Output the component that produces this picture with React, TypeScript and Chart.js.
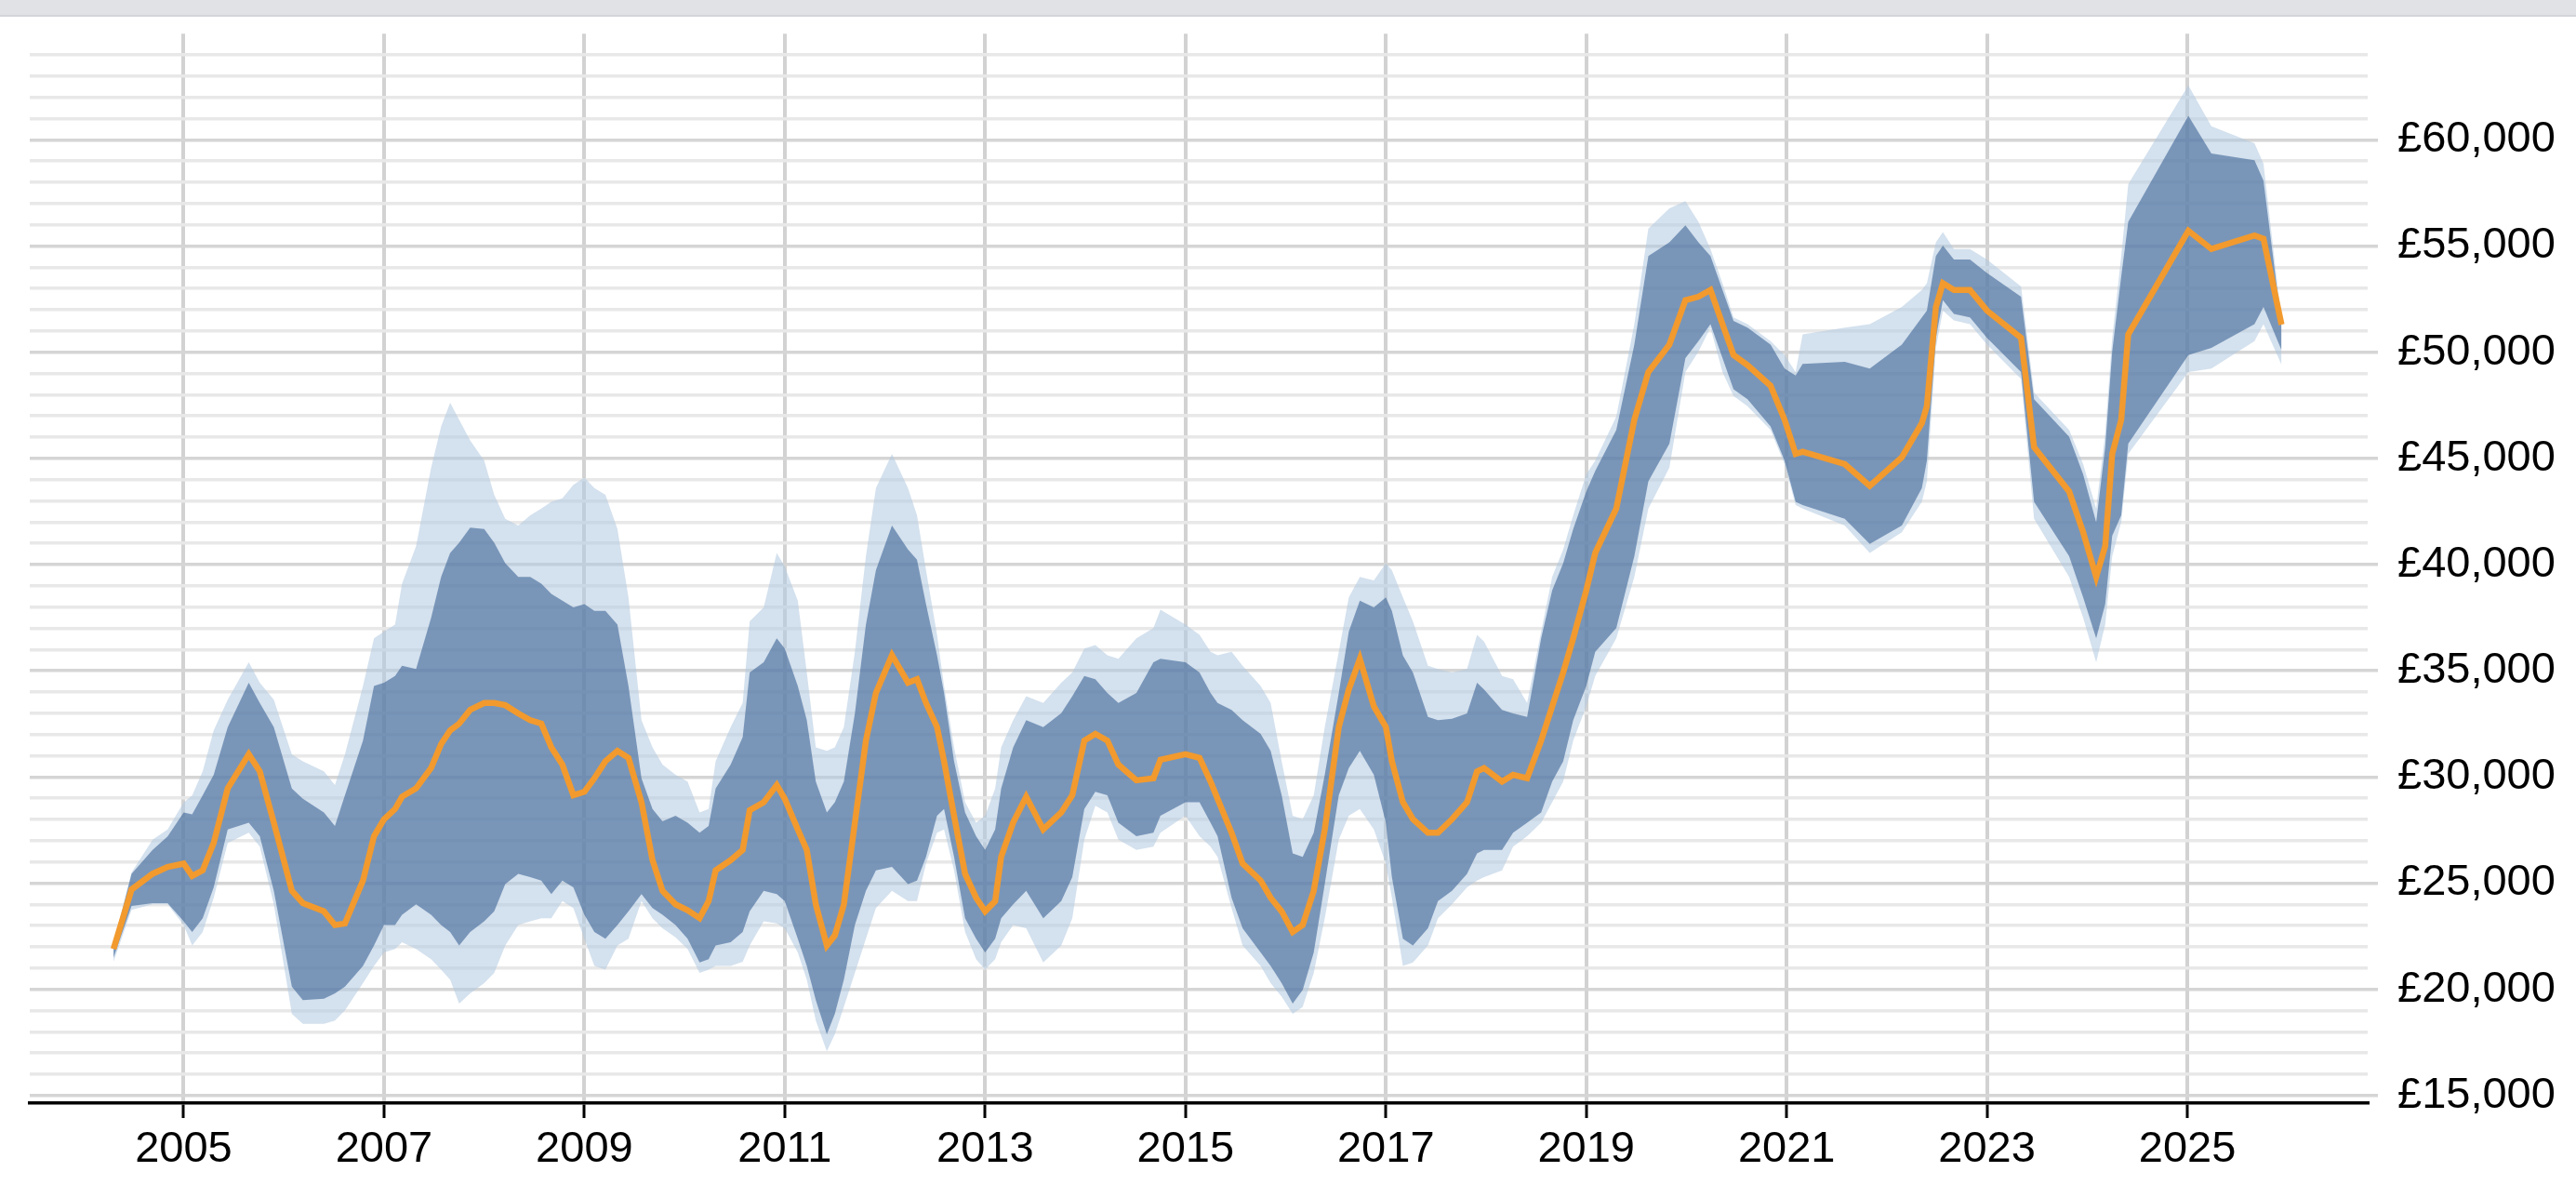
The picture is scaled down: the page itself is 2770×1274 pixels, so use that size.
import { useEffect, useRef } from "react";
import { Chart, registerables } from "chart.js";

Chart.register(...registerables);

// sample dates as decimal years
const years = [
  2004.3, 2004.48, 2004.69, 2004.84, 2005.0, 2005.085, 2005.19, 2005.3, 2005.44, 2005.65,
  2005.76, 2005.9, 2006.08, 2006.19, 2006.4, 2006.51, 2006.61, 2006.79, 2006.9, 2007.0,
  2007.11, 2007.18, 2007.32, 2007.47, 2007.57, 2007.66, 2007.75, 2007.86, 2008.0, 2008.1,
  2008.21, 2008.34, 2008.46, 2008.57, 2008.67, 2008.78, 2008.89, 2009.0, 2009.1, 2009.21,
  2009.33, 2009.44, 2009.57, 2009.68, 2009.78, 2009.91, 2010.03, 2010.15, 2010.24, 2010.31,
  2010.46, 2010.58, 2010.65, 2010.79, 2010.92, 2011.0, 2011.13, 2011.22, 2011.31, 2011.42,
  2011.5, 2011.59, 2011.7, 2011.81, 2011.91, 2012.07, 2012.23, 2012.32, 2012.41, 2012.52,
  2012.59, 2012.69, 2012.8, 2012.91, 2013.0, 2013.1, 2013.16, 2013.28, 2013.41, 2013.58,
  2013.76, 2013.87, 2013.99, 2014.1, 2014.22, 2014.33, 2014.51, 2014.68, 2014.75, 2015.0,
  2015.14, 2015.25, 2015.32, 2015.46, 2015.57, 2015.75, 2015.85, 2015.96, 2016.07, 2016.17,
  2016.28, 2016.39, 2016.53, 2016.63, 2016.74, 2016.88, 2017.0, 2017.06, 2017.17, 2017.27,
  2017.42, 2017.52, 2017.66, 2017.81, 2017.91, 2017.98, 2018.16, 2018.27, 2018.41, 2018.55,
  2018.66, 2018.77, 2018.87, 2019.0, 2019.09, 2019.3, 2019.48, 2019.62, 2019.83, 2019.99,
  2020.12, 2020.24, 2020.36, 2020.47, 2020.61, 2020.84, 2020.98, 2021.09, 2021.16, 2021.58,
  2021.83, 2022.15, 2022.35, 2022.4, 2022.49, 2022.56, 2022.67, 2022.83, 2023.0, 2023.34,
  2023.47, 2023.82, 2023.96, 2024.09, 2024.18, 2024.25, 2024.34, 2024.41, 2025.01, 2025.24,
  2025.67, 2025.76, 2025.94,
];

// 10th percentile
const p10 = [
  21300, 23740, 24000, 24000, 23030, 22060, 22700, 24310, 26890, 27370,
  26720, 24000, 18850, 18370, 18370, 18530, 19010, 20290, 21100, 21740,
  21900, 22220, 21900, 21420, 20930, 20450, 19330, 19810, 20290, 20770,
  22060, 23030, 23200, 23350, 23350, 24150, 23830, 22380, 21100, 20930,
  22060, 22380, 24150, 23350, 22870, 22450, 21900, 20770, 20930, 21100,
  21100, 21300, 22060, 23200, 23100, 22870, 21740, 20450, 18530, 17080,
  17880, 19170, 20770, 22380, 23830, 24640, 24150, 24150, 25920, 27370,
  27530, 25600, 22700, 21420, 20930, 21420, 22220, 23030, 22870, 21260,
  22060, 23350, 27050, 28650, 28330, 27050, 26560, 26720, 27370, 28170,
  27210, 26720, 26240, 23830, 22060, 21100, 20290, 19650, 18850, 19170,
  20770, 23350, 27050, 28170, 28490, 27530, 25920, 24310, 21100, 21260,
  22060, 23350, 24000, 24800, 25120, 25280, 25600, 26720, 27210, 27850,
  28810, 29780, 31710, 33320, 34760, 36530, 39420, 42640, 44570, 49070,
  50030, 51160, 49070, 47940, 47460, 46340, 44730, 42800, 42640, 41840,
  40550, 41520, 42960, 43920, 50200, 51960, 51500, 51320, 50360, 48740,
  42160, 39420, 37490, 35400, 37170, 40390, 42000, 45210, 49070, 49230,
  50520, 51320, 49400,
];

// 25th percentile
const p25 = [
  21500, 23930, 24060, 24060, 23200, 22700, 23350, 24800, 27530, 27850,
  27210, 24640, 20130, 19490, 19560, 19810, 20130, 21100, 22060, 23030,
  23030, 23510, 24000, 23510, 23030, 22700, 22060, 22700, 23200, 23670,
  24960, 25440, 25280, 25120, 24480, 25120, 24800, 23510, 22700, 22380,
  23030, 23670, 24480, 23830, 23510, 23030, 22380, 21260, 21420, 22060,
  22220, 22700, 23670, 24640, 24480, 24150, 22380, 21100, 19490, 17880,
  18850, 20450, 23030, 24640, 25600, 25760, 24960, 25120, 26240, 28170,
  28490, 26240, 23350, 22380, 21740, 22380, 23350, 24000, 24640, 23350,
  24150, 25280, 28490, 29300, 29140, 27850, 27210, 27370, 28170, 28810,
  28810, 27850, 27210, 24310, 22870, 21740, 21100, 20290, 19330, 19970,
  21740, 24960, 29140, 30420, 31230, 30100, 27850, 25280, 22380, 22060,
  22870, 24150, 24640, 25440, 26400, 26560, 26560, 27370, 27850, 28330,
  29780, 30740, 32670, 34280, 35890, 37010, 40390, 43920, 45690, 49720,
  50520, 51320, 49720, 48260, 47780, 46500, 44890, 42960, 42800, 42160,
  40970, 41840, 43600, 44890, 50680, 52450, 51800, 51640, 50680, 49070,
  42960, 40390, 38460, 36530, 38140, 41360, 42320, 45690, 49870, 50200,
  51320, 52130, 50100,
];

// median
const p50 = [
  21900, 24700, 25440, 25760, 25920, 25340, 25600, 26890, 29460, 31070,
  30260, 27850, 24640, 24060, 23670, 23030, 23100, 25120, 27210, 28010,
  28490, 29070, 29460, 30420, 31550, 32190, 32510, 33160, 33480, 33480,
  33380, 32990, 32670, 32510, 31390, 30580, 29140, 29300, 29940, 30740,
  31230, 30900, 28810, 26080, 24640, 24000, 23730, 23350, 24150, 25600,
  26080, 26560, 28430, 28810, 29620, 28970, 27530, 26560, 24000, 22060,
  22540, 24000, 27850, 31710, 33960, 35730, 34440, 34600, 33480, 32350,
  30740, 28170, 25440, 24310, 23670, 24150, 26240, 27850, 29070, 27530,
  28330, 29140, 31710, 32030, 31710, 30580, 29840, 29940, 30810, 31070,
  30900, 29780, 28970, 27370, 25920, 25120, 24310, 23670, 22700, 23030,
  24640, 27530, 32350, 34120, 35560, 33320, 32350, 30740, 28810, 28010,
  27370, 27370, 28010, 28810, 30260, 30420, 29780, 30100, 29940, 31710,
  33320, 34920, 36530, 38780, 40550, 42640, 46820, 49070, 50360, 52450,
  52610, 52930, 51320, 49870, 49390, 48420, 46820, 45210, 45310, 44730,
  43700, 45050, 46660, 47460, 52130, 53250, 52930, 52930, 51960, 50680,
  45530, 43440, 41520, 39420, 40870, 45210, 46820, 50840, 55720, 54860,
  55500, 55340, 51300,
];

// 75th percentile
const p75 = [
  22100, 25440, 26560, 27200, 28330, 28240, 29140, 30100, 32350, 34440,
  33480, 32350, 29460, 28970, 28330, 27690, 29140, 31710, 34280, 34440,
  34760, 35240, 35080, 37490, 39420, 40550, 41030, 41740, 41680, 41030,
  40070, 39420, 39420, 39100, 38620, 38300, 37980, 38140, 37820, 37820,
  37170, 34280, 29940, 28490, 27910, 28170, 27850, 27370, 27690, 29460,
  30580, 31870, 34920, 35400, 36530, 36050, 34280, 32670, 29780, 28330,
  28810, 29780, 32990, 37170, 39740, 41840, 40710, 40230, 38140, 35730,
  33960, 30740, 28330, 27210, 26560, 27530, 29460, 31390, 32670, 32350,
  33000, 33800, 34760, 34600, 33960, 33480, 33960, 35400, 35570, 35400,
  34920, 33960, 33480, 33160, 32670, 32030, 31230, 29140, 26400, 26240,
  27370, 30100, 33960, 36850, 38300, 37980, 38460, 37820, 35720, 34920,
  32830, 32670, 32740, 32990, 34440, 34120, 33160, 32990, 32830, 36530,
  38780, 40070, 41680, 43440, 44410, 46340, 50360, 54530, 55180, 55980,
  55180, 54530, 52930, 51480, 51160, 50360, 49230, 48900, 49450, 49550,
  49230, 50360, 51640, 51960, 54530, 55020, 54370, 54370, 53730, 52610,
  47780, 46020, 44250, 41990, 45530, 50040, 53570, 56140, 61130, 59360,
  59040, 58080, 51300,
];

// 90th percentile
const p90 = [
  22200, 25500, 27050, 27530, 28800, 29130, 30260, 32190, 33640, 35400,
  34440, 33640, 31070, 30740, 30260, 29620, 31070, 34280, 36530, 36850,
  37170, 39100, 40870, 44560, 46500, 47620, 46820, 45850, 44890, 43280,
  42160, 41840, 42320, 42640, 42960, 43120, 43760, 44090, 43600, 43280,
  41680, 38460, 32670, 31390, 30580, 30100, 29780, 28330, 28490, 30740,
  32350, 33480, 37330, 37980, 40550, 39910, 38300, 34920, 31390, 31230,
  31390, 32350, 35890, 40390, 43600, 45210, 43600, 42320, 39740, 36690,
  34280, 31390, 28810, 27850, 28170, 29460, 31390, 32670, 33800, 33480,
  34440, 34920, 36050, 36210, 35730, 35570, 36530, 37010, 37880, 37170,
  36690, 35890, 35730, 35890, 35240, 34280, 33480, 30740, 28170, 28010,
  29140, 32350, 35890, 38460, 39420, 39260, 40070, 39740, 38460, 37330,
  35240, 35080, 34920, 35080, 36690, 36370, 34760, 34600, 33480, 36850,
  39420, 40710, 42320, 44250, 44890, 46980, 51320, 55820, 56780, 57110,
  56140, 54860, 53250, 51640, 51320, 50520, 49870, 49070, 50840, 51160,
  51320, 52130, 52930, 53250, 55180, 55660, 54860, 54860, 54370, 53090,
  48100, 46340, 44730, 42640, 46180, 50680, 54530, 57910, 62570, 60640,
  59840, 58880, 51500,
];

const xTickYears = [2005, 2007, 2009, 2011, 2013, 2015, 2017, 2019, 2021, 2023, 2025];
const yGridValues = Array.from({ length: 50 }, (_, i) => 15000 + i * 1000);

const FONT = "Arial, 'Liberation Sans', Helvetica, sans-serif";
const W = 2770;
const H = 1274;
// canvas is lifted so the right axis label padding lands the plot top at y=36
const LIFT = 13;

const pts = (vals: number[]) => years.map((x, i) => ({ x, y: vals[i] }));

export default function App() {
  const canvasRef = useRef<HTMLCanvasElement | null>(null);

  useEffect(() => {
    document.body.style.margin = "0";
    const ctx = canvasRef.current?.getContext("2d");
    if (!ctx) return;

    const band = {
      borderWidth: 0,
      borderColor: "rgba(0,0,0,0)",
      pointRadius: 0,
      tension: 0,
    };

    const chart = new Chart(ctx, {
      type: "line",
      data: {
        datasets: [
          {
            label: "Median",
            data: pts(p50),
            borderColor: "#f29a2e",
            borderWidth: 6.5,
            pointRadius: 0,
            tension: 0,
            fill: false,
            borderJoinStyle: "miter",
          },
          { ...band, label: "75th", data: pts(p75), backgroundColor: "rgba(60,100,150,0.6)", fill: { target: 2 } },
          { ...band, label: "25th", data: pts(p25), fill: false },
          { ...band, label: "90th", data: pts(p90), backgroundColor: "rgba(176,200,224,0.55)", fill: { target: 4 } },
          { ...band, label: "10th", data: pts(p10), fill: false },
        ],
      },
      options: {
        responsive: false,
        animation: false,
        devicePixelRatio: 1,
        layout: { padding: { left: 32, top: 0, right: 0, bottom: 0 } },
        plugins: { legend: { display: false }, tooltip: { enabled: false } },
        scales: {
          x: {
            type: "linear",
            min: 2003.464,
            max: 2026.8,
            afterBuildTicks: (scale: any) => {
              scale.ticks = xTickYears.map((v) => ({ value: v }));
            },
            afterFit: (scale: any) => {
              scale.height = 88;
            },
            grid: {
              color: "#d2d2d2",
              lineWidth: 4,
              tickLength: 16,
              tickColor: "#000",
              tickWidth: 3,
            },
            border: { display: true, color: "#000", width: 3.5 },
            ticks: {
              autoSkip: false,
              maxRotation: 0,
              padding: 6,
              color: "#000",
              font: { family: FONT, size: 47 },
              callback: (v: any) => String(v),
            },
          },
          y: {
            type: "linear",
            position: "right",
            min: 14640,
            max: 65000,
            afterBuildTicks: (scale: any) => {
              scale.ticks = yGridValues.map((v) => ({ value: v }));
            },
            afterFit: (scale: any) => {
              scale.width = W - 2546;
            },
            grid: {
              color: (c: any) => (c.tick && c.tick.value % 5000 === 0 ? "#d5d5d5" : "#e8e8e8"),
              lineWidth: 3.5,
              tickLength: 11,
              tickWidth: 3.5,
              tickColor: (c: any) => (c.tick && c.tick.value % 5000 === 0 ? "#d5d5d5" : "rgba(0,0,0,0)"),
            },
            border: { display: false },
            ticks: {
              autoSkip: false,
              padding: 21,
              color: "#000",
              font: { family: FONT, size: 47 },
              callback: (v: any) => (Number(v) % 5000 === 0 ? "£" + Number(v).toLocaleString("en-GB") : ""),
            },
          },
        },
      },
    });

    return () => chart.destroy();
  }, []);

  return (
    <div style={{ position: "fixed", left: 0, top: 0, width: W, height: H, background: "#fff", overflow: "hidden" }}>
      <canvas
        ref={canvasRef}
        width={W}
        height={H + LIFT}
        style={{ position: "absolute", left: 0, top: -LIFT, width: W, height: H + LIFT }}
      />
      <div
        style={{
          position: "absolute",
          left: 0,
          top: 0,
          width: W,
          height: 16,
          background: "#e0e2e6",
          borderBottom: "2px solid #d3d5d9",
        }}
      />
    </div>
  );
}
